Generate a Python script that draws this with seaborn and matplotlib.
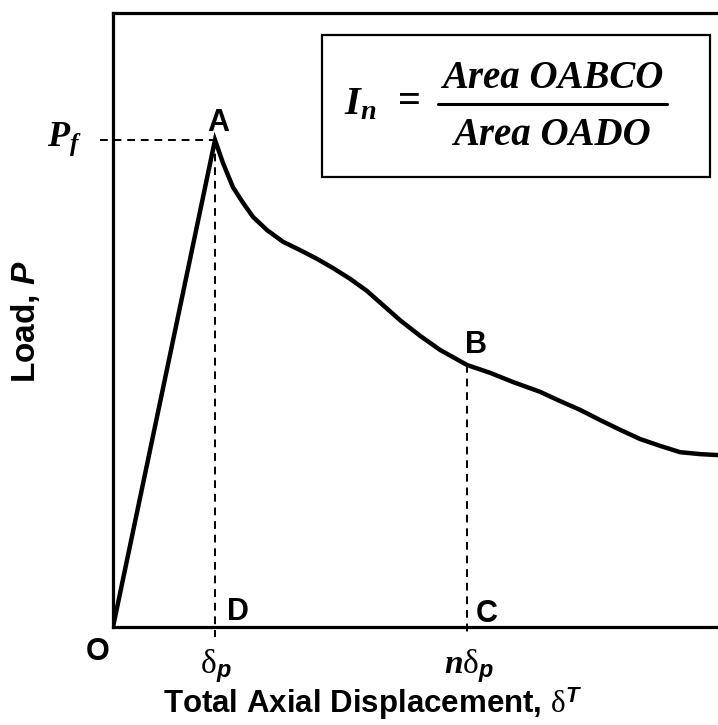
import matplotlib
matplotlib.use("Agg")
import matplotlib.pyplot as plt
import seaborn as sns
import pandas as pd
from matplotlib.patches import Rectangle

# ---- data (x in units of delta_p, y in units of P_f) ----
disp = [0.0, 1.0, 1.078, 1.176, 1.275, 1.373, 1.510, 1.667, 1.833, 2.0,
        2.157, 2.324, 2.490, 2.647, 2.814, 3.010, 3.206, 3.471, 3.696, 3.922,
        4.186, 4.382, 4.578, 4.775, 4.971, 5.167, 5.363, 5.559, 5.755, 5.931]
load = [0.0, 1.0, 0.953, 0.903, 0.871, 0.842, 0.815, 0.791, 0.774, 0.756,
        0.737, 0.715, 0.690, 0.661, 0.630, 0.598, 0.569, 0.538, 0.522, 0.503,
        0.483, 0.464, 0.446, 0.425, 0.405, 0.386, 0.372, 0.359, 0.355, 0.353]
delta_p = 1.0
n_delta_p = 3.471
load_B = 0.538
P_f = 1.0
point_labels = ["A", "B", "C", "D", "O"]

W, H = 718, 725
sns.set_style("white")
plt.rcParams["font.family"] = ["Liberation Sans", "DejaVu Sans"]
plt.rcParams["text.color"] = "black"
plt.rcParams["mathtext.fontset"] = "custom"
plt.rcParams["mathtext.rm"] = "Liberation Serif"
plt.rcParams["mathtext.it"] = "Liberation Serif:italic:bold"
plt.rcParams["mathtext.bf"] = "Liberation Sans:italic:bold"
plt.rcParams["mathtext.sf"] = "Liberation Sans:bold"

fig = plt.figure(figsize=(W / 100, H / 100), dpi=100)
ax = fig.add_axes([113 / W, 1 - 627 / H, (W - 113) / W, (627 - 13) / H])

df = pd.DataFrame({"disp": disp, "load": load})
sns.lineplot(data=df, x="disp", y="load", sort=False, estimator=None,
             color="black", lw=3.2, ax=ax, solid_joinstyle="miter")

ax.set_xlim(0, (W - 113) / 102)
ax.set_ylim(0, (627 - 13) / 487)
for s in ["left", "bottom", "top"]:
    ax.spines[s].set_linewidth(2.3)
    ax.spines[s].set_color("black")
ax.spines["right"].set_visible(False)
ax.set_xticks([])
ax.set_yticks([])
ax.set_xlabel("")
ax.set_ylabel("")

ylow = -10 / 487
dash = dict(color="black", lw=1.4, ls=(0, (4, 3)), clip_on=False)
ax.plot([-13 / 102, delta_p], [P_f, P_f], **dash)
ax.plot([delta_p, delta_p], [P_f, ylow], **dash)
ax.plot([n_delta_p, n_delta_p], [load_B, ylow], **dash)

# formula box
bx0, bx1 = (322 - 113) / 102, (710 - 113) / 102
by0, by1 = (627 - 177) / 487, (627 - 35) / 487
ax.add_patch(Rectangle((bx0, by0), bx1 - bx0, by1 - by0, fill=False,
                       ec="black", lw=1.6, clip_on=False))
ax.plot([(438 - 113) / 102, (667 - 113) / 102], [(627 - 104) / 487] * 2,
        color="black", lw=2.2)


def ft(px, py, s, **kw):
    fig.text(px / W, 1 - py / H, s, color="black", **kw)


lab = dict(fontsize=22, fontweight="bold", ha="center", va="baseline")
ft(218, 131, point_labels[0], **lab)
ft(476, 353, point_labels[1], **lab)
ft(487, 622, point_labels[2], **lab)
ft(238, 620, point_labels[3], **lab)
ft(98, 660, point_labels[4], **lab)

ft(64, 146, r"$\mathit{P}_{\mathit{f}}$", fontsize=26, ha="center", va="baseline")
ft(216, 673, r"$\mathrm{δ}_{\mathbf{p}}$", fontsize=24, ha="center", va="baseline")
ft(469, 673, r"$\mathit{n}\mathrm{δ}_{\mathbf{p}}$", fontsize=24, ha="center", va="baseline")

ft(373, 713, "Total Axial Displacement, " + r"$\mathrm{δ}^{\mathbf{T}}$",
   fontsize=22.5, fontweight="bold", ha="center", va="baseline")
ft(25, 322, "Load, " + r"$\mathbf{P}$", fontsize=24, fontweight="bold",
   rotation=90, ha="center", va="center")

ft(360, 114, r"$\mathit{I}_{\mathit{n}}$", fontsize=29, ha="center", va="baseline")
ft(410, 112, "=", fontsize=29, family="Liberation Serif", fontweight="bold",
   ha="center", va="baseline")
ft(553, 88, "Area OABCO", fontsize=28, family="Liberation Serif",
   fontweight="bold", style="italic", ha="center", va="baseline")
ft(552, 145, "Area OADO", fontsize=28, family="Liberation Serif",
   fontweight="bold", style="italic", ha="center", va="baseline")

fig.savefig("out.png", dpi=100)
